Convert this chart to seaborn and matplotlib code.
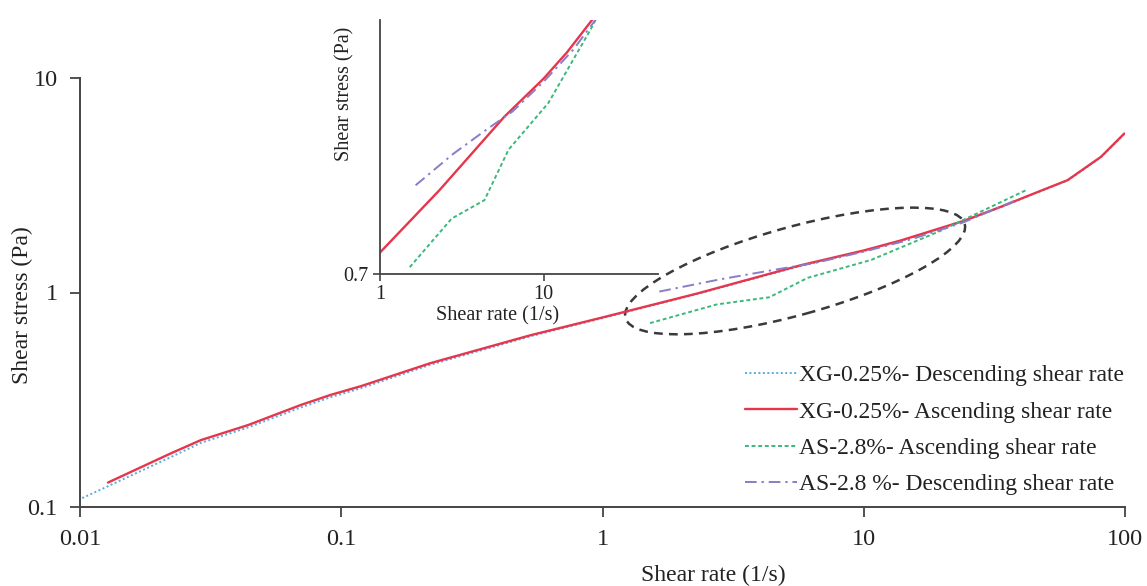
import numpy as np
import pandas as pd
import matplotlib
matplotlib.use("Agg")
import matplotlib.pyplot as plt
import matplotlib.transforms as mtransforms
from matplotlib.patches import Ellipse
import seaborn as sns

# ---------------- data ----------------
xg_desc_x = [0.0102, 0.0128, 0.0223, 0.029, 0.044, 0.070, 0.091, 0.119, 0.219, 0.53, 1.0,
             2.31, 5.74, 10, 13.9, 24.2, 33.5, 45, 60.3, 80.9, 99.4]
xg_desc_y = [0.110, 0.125, 0.171, 0.199, 0.235, 0.291, 0.325, 0.358, 0.460, 0.625, 0.760,
             0.985, 1.33, 1.56, 1.74, 2.15, 2.50, 2.89, 3.33, 4.27, 5.48]

xg_asc_x = [0.0128, 0.0223, 0.029, 0.044, 0.070, 0.091, 0.119, 0.219, 0.53, 1.0,
            2.31, 5.74, 10, 13.9, 24.2, 33.5, 45, 60.3, 80.9, 99.4]
xg_asc_y = [0.130, 0.178, 0.205, 0.241, 0.299, 0.333, 0.366, 0.468, 0.632, 0.765,
            0.99, 1.34, 1.57, 1.75, 2.16, 2.51, 2.90, 3.34, 4.29, 5.51]

as_asc_x = [1.52, 2.74, 4.35, 6.1, 10.7, 19.5, 41.8]
as_asc_y = [0.72, 0.88, 0.95, 1.17, 1.42, 1.93, 3.0]

as_desc_x = [1.65, 2.8, 4.45, 6.45, 10, 15.2, 24, 37.6]
as_desc_y = [1.01, 1.15, 1.27, 1.37, 1.55, 1.77, 2.12, 2.67]

labels = ["XG-0.25%- Descending shear rate",
          "XG-0.25%- Ascending shear rate",
          "AS-2.8%- Ascending shear rate",
          "AS-2.8 %- Descending shear rate"]

main_xticks = [0.01, 0.1, 1, 10, 100]
main_xticklabels = ["0.01", "0.1", "1", "10", "100"]
main_yticks = [0.1, 1, 10]
main_yticklabels = ["0.1", "1", "10"]
inset_xticks = [1, 10]
inset_xticklabels = ["1", "10"]
inset_yticks = [0.7]
inset_yticklabels = ["0.7"]

# highlighted region (centre in data units)
ellipse_center = (5.46, 1.26)

# ---------------- style ----------------
sns.set_style("ticks")
plt.rcParams["font.family"] = ["Liberation Serif", "DejaVu Serif"]

C_BLUE = "#5aa9dc"
C_RED = "#e5364c"
C_GREEN = "#3bb87a"
C_PURPLE = "#8a7cc6"
C_AXIS = "#444444"
C_TEXT = "#222222"

fig = plt.figure(figsize=(11.47, 5.86), dpi=100)
ax = fig.add_axes([80 / 1147, 1 - 507 / 586, 1045 / 1147, 429 / 586])

series = [
    (xg_desc_x, xg_desc_y, labels[0], C_BLUE, (1, 1.3), 1.4),
    (xg_asc_x, xg_asc_y, labels[1], C_RED, None, 1.7),
    (as_asc_x, as_asc_y, labels[2], C_GREEN, (2, 1.4), 1.4),
    (as_desc_x, as_desc_y, labels[3], C_PURPLE, (6, 2.5, 1.2, 2.5), 1.4),
]

for xs, ys, lab, col, dash, lw in series:
    df = pd.DataFrame({"x": xs, "y": ys})
    sns.lineplot(data=df, x="x", y="y", ax=ax, color=col, lw=lw,
                 sort=False, estimator=None, label=lab)
    if dash is not None:
        ax.lines[-1].set_dashes(dash)

ax.set_xscale("log")
ax.set_yscale("log")
ax.set_xlim(0.01, 100)
ax.set_ylim(0.1, 10)
ax.set_xticks(main_xticks)
ax.set_xticklabels(main_xticklabels)
ax.set_yticks(main_yticks)
ax.set_yticklabels(main_yticklabels)
ax.minorticks_off()
for s in ["top", "right"]:
    ax.spines[s].set_visible(False)
for s in ["left", "bottom"]:
    ax.spines[s].set_color(C_AXIS)
    ax.spines[s].set_linewidth(1.4)
ax.tick_params(axis="both", which="major", direction="out", length=7, width=1.3,
               color=C_AXIS, labelsize=17.5, labelcolor=C_TEXT, pad=9)
ax.set_xlabel("Shear rate (1/s)", fontsize=17, color=C_TEXT)
ax.set_ylabel("Shear stress (Pa)", fontsize=17, color=C_TEXT)
ax.xaxis.set_label_coords(0.606, -0.135)
ax.yaxis.set_label_coords(-0.045, 0.47)

leg = ax.legend(loc="lower right", bbox_to_anchor=(1.013, -0.005), frameon=False,
                fontsize=17, handlelength=2.2, handletextpad=0.1,
                labelspacing=0.62, borderaxespad=0.2)
for t in leg.get_texts():
    t.set_color(C_TEXT)

# dashed ellipse around the region of interest (size in pixels)
dpi = fig.dpi
trans = fig.dpi_scale_trans + mtransforms.ScaledTranslation(ellipse_center[0], ellipse_center[1], ax.transData)
ell = Ellipse((0, 0), width=2 * 176 / dpi, height=2 * 44 / dpi, angle=15.5,
              transform=trans, fill=False, edgecolor="#3a3a3a", lw=1.8,
              linestyle=(0, (3.5, 2.5)))
ax.add_patch(ell)

# ---------------- inset ----------------
axi = fig.add_axes([380 / 1147, 1 - 274 / 586, 278 / 1147, 254 / 586])
for xs, ys, lab, col, dash, lw in series[1:]:
    df = pd.DataFrame({"x": xs, "y": ys})
    sns.lineplot(data=df, x="x", y="y", ax=axi, color=col, lw=lw,
                 sort=False, estimator=None, legend=False)
    if dash is not None:
        axi.lines[-1].set_dashes(dash)
axi.set_xscale("log")
axi.set_yscale("log")
axi.set_xlim(1, 50)
axi.set_ylim(0.7, 2.0)
axi.set_xticks(inset_xticks)
axi.set_xticklabels(inset_xticklabels)
axi.set_yticks(inset_yticks)
axi.set_yticklabels(inset_yticklabels)
axi.minorticks_off()
axi.patch.set_alpha(0)
for s in ["top", "right"]:
    axi.spines[s].set_visible(False)
for s in ["left", "bottom"]:
    axi.spines[s].set_color(C_AXIS)
    axi.spines[s].set_linewidth(1.3)
axi.tick_params(axis="both", which="major", direction="out", length=5, width=1.2,
                color=C_AXIS, labelsize=14.5, labelcolor=C_TEXT, pad=3)
axi.set_xlabel("Shear rate (1/s)", fontsize=14.5, color=C_TEXT)
axi.set_ylabel("Shear stress (Pa)", fontsize=14.5, color=C_TEXT)
axi.xaxis.set_label_coords(0.424, -0.125)
axi.yaxis.set_label_coords(-0.09, 0.71)

fig.savefig("out.png", dpi=100)
